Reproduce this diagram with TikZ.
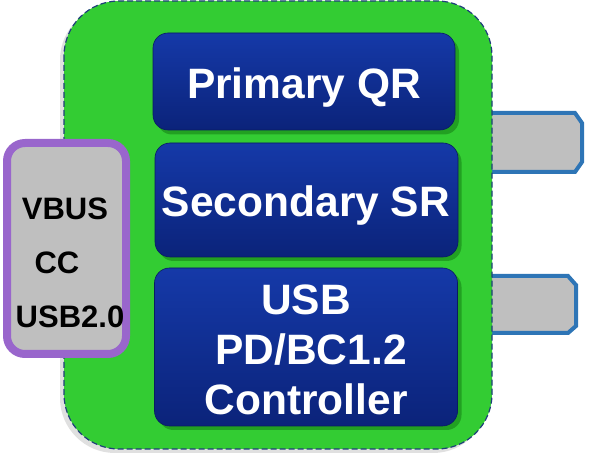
\documentclass[tikz,border=0pt]{standalone}
\usepackage{fontspec}
\setmainfont{Liberation Sans}
\definecolor{boardgreen}{HTML}{33CC33}
\definecolor{boardshadow}{HTML}{22A022}
\definecolor{edgeblue}{HTML}{1F3F7A}
\definecolor{blocktop}{HTML}{1539A8}
\definecolor{blockbot}{HTML}{0B237A}
\definecolor{tabedge}{HTML}{2E75B6}
\definecolor{tabfill}{HTML}{BFBFBF}
\definecolor{portpurple}{HTML}{9966CC}
\tikzset{
  blockbox/.style={rounded corners=15pt, draw=blockbot!80!black, line width=0.6pt,
    top color=blocktop, bottom color=blockbot, inner sep=0pt},
  blockshade/.style={rounded corners=15pt, fill=boardshadow, draw=none, inner sep=0pt},
  blocklabel/.style={text=white, font=\bfseries\fontsize{42.5}{50}\selectfont,
    align=center, inner sep=0pt, anchor=base},
  tabport/.style={draw=tabedge, line width=4pt, fill=tabfill, line join=miter},
  pinlabel/.style={font=\bfseries\fontsize{31}{31}\selectfont, text=black,
    inner sep=0pt, anchor=base}
}
\begin{document}
\begin{tikzpicture}[x=1pt,y=-1pt]
\useasboundingbox (0,0) rectangle (590,454);

% connector tabs on the right edge
\draw[tabport] (470,113) -- (575,113) -- (582,123) -- (582,162) -- (575,172) -- (470,172);
\draw[tabport] (470,276) -- (568,276) -- (576,285) -- (576,326) -- (568,333) -- (470,333);

% board with its shadow
\fill[black, opacity=0.12, rounded corners=55pt] (60,5) rectangle (488,453);
\path[fill=boardgreen, draw=edgeblue, line width=1.2pt, dash pattern=on 6pt off 3pt,
      rounded corners=55pt] (64,1) rectangle (492,449);

% functional blocks
\node[blockshade, minimum width=302pt, minimum height=97pt] at (308,86) {};
\node[blockshade, minimum width=303pt, minimum height=114pt] at (310,204) {};
\node[blockshade, minimum width=303pt, minimum height=158pt] at (310,351) {};
\node[blockbox, minimum width=302pt, minimum height=97pt] (qr) at (304,81.5) {};
\node[blockbox, minimum width=303pt, minimum height=114pt] (sr) at (306.5,200) {};
\node[blockbox, minimum width=303pt, minimum height=158pt] (pd) at (306,347) {};
\node[blocklabel] (qrtext) at (304,99) {Primary QR};
\node[blocklabel] (srtext) at (306,217) {Secondary SR};
\node[blocklabel] (pdtext) at (306,415) {USB\\\hspace*{10pt}PD/BC1.2\\Controller};

% port pin group on the left
\node[draw=portpurple, line width=8pt, fill=tabfill, rounded corners=18pt,
      minimum width=119pt, minimum height=211pt, inner sep=0pt] (port) at (66.5,248.5) {};
\node[pinlabel] (vbus) at (65,220) {VBUS};
\node[pinlabel] (cc) at (57,274) {CC};
\node[pinlabel] (usb) at (70,328) {USB2.0};
\end{tikzpicture}
\end{document}
